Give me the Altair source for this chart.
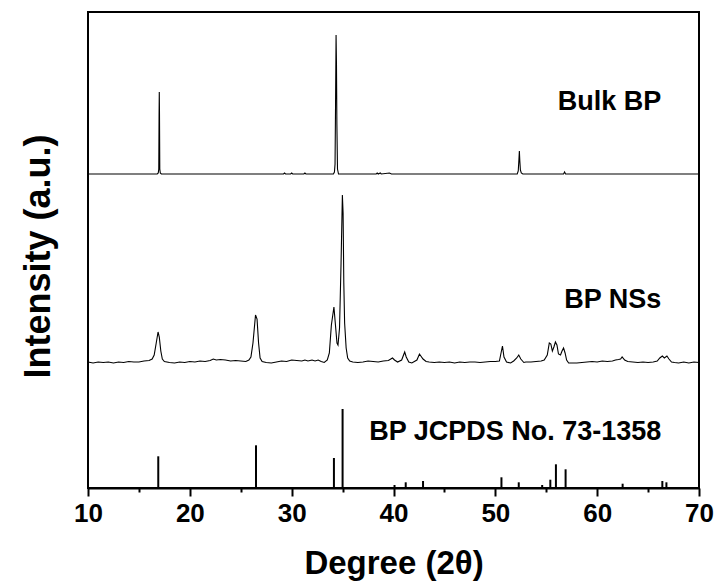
import altair as alt
import pandas as pd

# ---- data ----
# Bulk BP pattern: 2theta and intensity above its own baseline
bulk_x = [10.0, 16.8, 16.9, 16.95, 16.98, 17.0, 17.02, 17.05, 17.1, 17.2,
          29.2, 29.3, 29.4, 29.9, 30.0, 30.1, 31.2, 31.3, 31.4,
          34.1, 34.2, 34.26, 34.31, 34.36, 34.4, 34.44, 34.5, 34.6,
          38.3, 38.4, 38.5, 38.7, 38.8, 39.6, 39.8,
          52.15, 52.25, 52.32, 52.36, 52.4, 52.46, 52.55, 52.7,
          56.7, 56.8, 56.9, 70.0]
bulk_y = [0, 0, 1, 5, 60, 82, 60, 5, 1, 0,
          0, 1, 0, 0, 1, 0, 0, 1, 0,
          0, 2, 10, 70, 139, 110, 50, 5, 0,
          0, 1, 0, 1, 0, 1, 0,
          0, 3, 15, 23, 14, 4, 1, 0,
          0, 2, 0, 0]

# BP nanosheets pattern
ns_x = [10.0, 10.5, 11.0, 11.5, 12.0, 12.5, 13.0, 13.5, 14.0, 14.5, 15.0, 15.5, 16.0,
        16.3, 16.5, 16.7, 16.88, 17.0, 17.15, 17.3, 17.5, 18.0, 18.5, 19.0, 19.5,
        20.0, 20.5, 21.0, 21.5, 22.0, 22.3, 22.6, 23.0, 23.5, 24.0, 24.5, 25.0,
        25.5, 25.8, 26.0, 26.2, 26.45, 26.6, 26.75, 26.9, 27.1, 27.5, 28.0, 28.5,
        29.0, 29.5, 30.0, 30.5, 31.0, 31.3, 31.6, 32.0, 32.3, 32.6, 32.9, 33.2,
        33.5, 33.7, 33.9, 34.15, 34.3, 34.45, 34.55, 34.7, 34.85, 34.98, 35.05,
        35.12, 35.2, 35.35, 35.5, 35.7, 36.0, 36.5, 37.0, 37.5, 38.0, 38.5, 39.0,
        39.5, 39.9, 40.1, 40.4, 40.8, 41.1, 41.25, 41.5, 41.8, 42.3, 42.55, 42.9,
        43.2, 43.5, 44.0, 44.5, 45.0, 45.5, 46.0, 46.5, 47.0, 47.5, 48.0, 48.5,
        49.0, 49.5, 50.0, 50.4, 50.6, 50.7, 50.85, 51.1, 51.5, 51.8, 52.1, 52.3,
        52.5, 52.8, 53.0, 53.5, 54.0, 54.5, 54.8, 55.1, 55.3, 55.45, 55.6, 55.75,
        55.9, 56.05, 56.2, 56.4, 56.55, 56.7, 56.85, 57.0, 57.2, 57.5, 58.0, 58.5,
        59.0, 59.5, 60.0, 60.5, 61.0, 61.5, 61.8, 62.1, 62.3, 62.45, 62.7, 63.0,
        63.5, 64.0, 64.5, 65.0, 65.5, 65.9, 66.15, 66.4, 66.6, 66.85, 67.05, 67.3,
        67.6, 68.0, 68.5, 69.0, 69.5, 70.0]
ns_y = [1, 0, 1, 0.5, 1, 0, 1, 0.5, 1.5, 1, 1, 2, 2.5,
        4, 8, 20, 31, 26, 12, 4, 1.5, 0.5, 0, 1, 0.5,
        1.5, 1, 2, 1.5, 2.5, 4, 3, 3.5, 3, 2, 2.5, 2,
        1.5, 3, 6, 20, 48, 44, 20, 5, 1.5, 0.5, 0, 1,
        2, 1.5, 3, 2.5, 2, 3, 2, 3, 2, 3, 1.5, 0.5,
        3, 10, 38, 56, 38, 20, 18, 35, 100, 168, 150,
        80, 40, 15, 5, 2, 1, 0.5, 1, 2, 1.5, 1, 2,
        2.5, 5, 3, 1, 3, 11, 6, 1, 0, 3, 9, 4,
        1.5, 1, 0.5, 1, 0.5, 1, 0, 1, 0.5, 1, 1, 0.5,
        1, 1.5, 1.5, 2, 12, 17, 6, 1, 0, 2, 5, 8,
        4, 0.5, 1, 1, 1.5, 2, 3, 8, 20, 19, 12, 16,
        21, 18, 9, 8, 12, 15, 10, 3, 0, 0, 0, 0.5,
        1, 1.5, 1, 2, 1.5, 2, 3, 3.5, 4, 6, 3, 1.5,
        1, 0.5, 1, 0.5, 1, 2, 5, 7, 5, 7, 4, 1,
        0.5, 0, 1, 0, 1, 0.5]

# JCPDS No. 73-1358 reference lines
ref_x = [16.9, 26.5, 34.15, 35.0, 40.1, 41.2, 42.9, 50.6, 52.3, 54.6,
         55.4, 55.95, 56.9, 62.5, 66.4, 66.8]
ref_y = [31.7, 42.7, 30, 79, 3, 5.7, 7, 10.7, 5.7, 3,
         8.3, 23.7, 18.7, 4.3, 7, 5.7]

# vertical offsets of the stacked patterns
bulk_offset = 314
ns_offset = 125

labels = ["Bulk BP", "BP NSs", "BP JCPDS No. 73-1358"]
label_y = [386, 188, 56]
label_x = [66.3, 66.3, 66.3]

x_ticks = [10, 15, 20, 25, 30, 35, 40, 45, 50, 55, 60, 65, 70]

# ---- frames ----
lines = pd.DataFrame({
    "x": bulk_x + ns_x,
    "y": [v + bulk_offset for v in bulk_y] + [v + ns_offset for v in ns_y],
    "series": ["Bulk BP"] * len(bulk_x) + ["BP NSs"] * len(ns_x),
})
sticks = pd.DataFrame({"x": ref_x, "y0": [0] * len(ref_x), "y": ref_y})
texts = pd.DataFrame({"x": label_x, "y": label_y, "t": labels})

FONT = "Liberation Sans"

xscale = alt.Scale(domain=[10, 70], nice=False, zero=False)
yscale = alt.Scale(domain=[0, 476], nice=False, zero=True)

xaxis = alt.Axis(
    title="Degree (2θ)", values=x_ticks,
    labelExpr="datum.value % 10 === 0 ? datum.label : ''",
    tickSize={"condition": {"test": "datum.value % 10 === 0", "value": 8}, "value": 4},
    tickWidth=2, tickColor="black", domainColor="black", domainWidth=2,
    labelFont=FONT, labelFontSize=26, labelFontWeight="bold", labelColor="black",
    labelPadding=4, labelFlush=False, labelOverlap=False, grid=False,
    titleFont=FONT, titleFontSize=33, titleFontWeight="bold", titleColor="black",
    titleY=75, titleBaseline="middle",
)
yaxis = alt.Axis(
    title="Intensity (a.u.)", labels=False, ticks=False, domain=False, grid=False,
    titleFont=FONT, titleFontSize=36, titleFontWeight="bold", titleColor="black",
    titleX=-50, titleY=244, titleAngle=270, titleBaseline="middle", titleAlign="center",
)

line_layer = alt.Chart(lines).mark_line(color="black", strokeWidth=1.1).encode(
    x=alt.X("x:Q", scale=xscale, axis=xaxis),
    y=alt.Y("y:Q", scale=yscale, axis=yaxis),
    detail="series:N",
    order="x:Q",
)
stick_layer = alt.Chart(sticks).mark_rule(color="black", strokeWidth=2).encode(
    x="x:Q", y="y0:Q", y2="y:Q",
)
text_layer = alt.Chart(texts).mark_text(
    align="right", baseline="middle", font=FONT, fontSize=27,
    fontWeight="bold", color="black",
).encode(x="x:Q", y="y:Q", text="t:N")

chart = alt.layer(line_layer, stick_layer, text_layer).properties(
    width=611, height=476,
    autosize=alt.AutoSizeParams(type="none"),
    padding={"left": 88, "top": 12, "right": 21, "bottom": 96},
    background="white",
).configure_view(stroke="black", strokeWidth=2)

chart.save("out.html", embed_options={"renderer": "svg", "actions": False})
